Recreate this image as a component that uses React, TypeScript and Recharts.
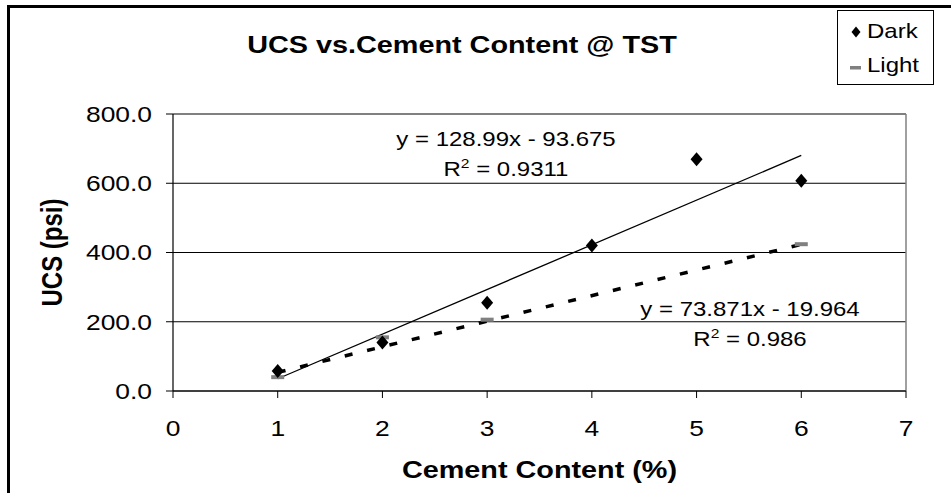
import React from 'react';
import {
  ScatterChart,
  Scatter,
  XAxis,
  YAxis,
  CartesianGrid,
  ReferenceLine,
  ReferenceDot,
  Legend,
  Label,
  Customized,
} from 'recharts';

const FONT = '"Liberation Sans", Arial, Helvetica, sans-serif';
const SX = 1.2; // horizontal stretch of the reference's text

// ---- data ----
const seriesNames = ['Dark', 'Light'];
const cementDark = [1, 2, 3, 4, 5, 6];
const ucsDark = [58, 140, 255, 420, 669, 607];
const cementLight = [1, 2, 3, 6];
const ucsLight = [40, 155, 206, 424];
const xTicks = [0, 1, 2, 3, 4, 5, 6, 7];
const yTicks = [0, 200, 400, 600, 800];
const darkFit = { slope: 128.99, intercept: -93.675, r2: '0.9311' };
const lightFit = { slope: 73.871, intercept: -19.964, r2: '0.986' };
const fitRange = [1, 6];
const darkEqAnchor = { x: 3.18, y: 664 };
const lightEqAnchor = { x: 5.51, y: 172 };
const chartTitle = 'UCS vs.Cement Content @ TST';
const xTitle = 'Cement Content (%)';
const yTitle = 'UCS (psi)';

const darkData = cementDark.map((x, i) => ({ x, y: ucsDark[i] }));
const lightData = cementLight.map((x, i) => ({ x, y: ucsLight[i] }));
const fitSegment = (fit: { slope: number; intercept: number }) =>
  fitRange.map((x) => ({ x, y: fit.slope * x + fit.intercept }));

// ---- shapes ----
const Diamond = (p: any) => {
  const { cx, cy, hw = 6, hh = 7 } = p;
  if (cx == null || cy == null) return null;
  return (
    <polygon
      points={`${cx},${cy - hh} ${cx + hw},${cy} ${cx},${cy + hh} ${cx - hw},${cy}`}
      fill="#000"
    />
  );
};
const GrayDash = (p: any) => {
  const { cx, cy } = p;
  if (cx == null || cy == null) return null;
  return <rect x={cx - 6.5} y={cy - 2} width={13} height={4} fill="#808080" />;
};

// ---- texts ----
const XTick = (p: any) => {
  const { x, y, payload } = p;
  return (
    <g transform={`translate(${x},${y})`}>
      <text
        transform={`scale(${SX},1)`}
        textAnchor="middle"
        y={38}
        fontFamily={FONT}
        fontSize={22}
        fill="#000"
      >
        {payload.value}
      </text>
    </g>
  );
};
const YTick = (p: any) => {
  const { x, y, payload } = p;
  return (
    <g transform={`translate(${x - 14},${y})`}>
      <text
        transform={`scale(${SX},1)`}
        textAnchor="end"
        dy="0.36em"
        fontFamily={FONT}
        fontSize={22}
        fill="#000"
      >
        {Number(payload.value).toFixed(1)}
      </text>
    </g>
  );
};
const XTitle = (p: any) => {
  const vb = p.viewBox || {};
  return (
    <g transform={`translate(${vb.x + vb.width / 2},${vb.y + 87})`}>
      <text
        transform={`scale(${SX},1)`}
        textAnchor="middle"
        fontFamily={FONT}
        fontWeight="bold"
        fontSize={24}
        fill="#000"
      >
        {xTitle}
      </text>
    </g>
  );
};
const YTitle = (p: any) => {
  const vb = p.viewBox || {};
  return (
    <g transform={`translate(62,${vb.y + vb.height / 2}) rotate(-90) scale(1,${SX})`}>
      <text textAnchor="middle" fontFamily={FONT} fontWeight="bold" fontSize={24} fill="#000">
        {yTitle}
      </text>
    </g>
  );
};
const ChartTitle = () => (
  <g transform="translate(462,53)">
    <text
      transform={`scale(${SX},1)`}
      textAnchor="middle"
      fontFamily={FONT}
      fontWeight="bold"
      fontSize={24}
      fill="#000"
    >
      {chartTitle}
    </text>
  </g>
);
const EqLabel = (p: any) => {
  const { viewBox, fit } = p;
  const cx = viewBox.x + (viewBox.width || 0) / 2;
  const cy = viewBox.y + (viewBox.height || 0) / 2;
  return (
    <g transform={`translate(${cx},${cy})`}>
      <text transform={`scale(${SX},1)`} textAnchor="middle" fontFamily={FONT} fontSize={20} fill="#000">
        <tspan x={0} y={-15}>{`y = ${fit.slope}x - ${Math.abs(fit.intercept)}`}</tspan>
      </text>
      <text transform={`scale(${SX},1)`} textAnchor="middle" fontFamily={FONT} fontSize={20} fill="#000">
        <tspan x={0} y={15}>R</tspan>
        <tspan dy={-8} fontSize={13}>2</tspan>
        <tspan dy={8}>{` = ${fit.r2}`}</tspan>
      </text>
    </g>
  );
};

const LegendBox = () => (
  <svg width={97} height={75} style={{ display: 'block' }}>
    <rect x={0.5} y={0.5} width={96} height={74} fill="#fff" stroke="#000" strokeWidth={1} />
    <Diamond cx={19} cy={22} hw={4.5} hh={5.5} />
    <g transform="translate(30,28)">
      <text transform={`scale(${SX},1)`} fontFamily={FONT} fontSize={20} fill="#000">
        {seriesNames[0]}
      </text>
    </g>
    <rect x={13} y={56} width={11} height={3.5} fill="#808080" />
    <g transform="translate(30,62)">
      <text transform={`scale(${SX},1)`} fontFamily={FONT} fontSize={20} fill="#000">
        {seriesNames[1]}
      </text>
    </g>
  </svg>
);

export default function App() {
  return (
    <div style={{ position: 'absolute', left: 0, top: 0, width: 951, height: 493, background: '#fff', overflow: 'hidden' }}>
      <div
        style={{
          position: 'absolute',
          left: 7,
          top: 5,
          width: 960,
          height: 500,
          borderLeft: '3px solid #000',
          borderTop: '3px solid #000',
          boxSizing: 'border-box',
          pointerEvents: 'none',
        }}
      />
      <ScatterChart width={951} height={493} margin={{ top: 114, right: 45, bottom: 42, left: 83 }}>
        <CartesianGrid vertical={false} stroke="#000" strokeWidth={1} />
        <ReferenceLine y={800} stroke="#808080" strokeWidth={1.5} />
        <ReferenceLine x={7} stroke="#808080" strokeWidth={1.5} />
        <XAxis
          type="number"
          dataKey="x"
          domain={[0, 7]}
          ticks={xTicks}
          tickSize={7}
          tickMargin={0}
          height={60}
          axisLine={{ stroke: '#000', strokeWidth: 1.2 }}
          tickLine={{ stroke: '#000' }}
          tick={<XTick />}
        >
          <Label content={<XTitle />} />
        </XAxis>
        <YAxis
          type="number"
          dataKey="y"
          domain={[0, 800]}
          ticks={yTicks}
          tickSize={7}
          tickMargin={0}
          width={90}
          axisLine={{ stroke: '#000', strokeWidth: 1.2 }}
          tickLine={{ stroke: '#000' }}
          tick={<YTick />}
        >
          <Label content={<YTitle />} />
        </YAxis>
        <ReferenceLine segment={fitSegment(darkFit)} stroke="#000" strokeWidth={1.3} />
        <ReferenceLine segment={fitSegment(lightFit)} stroke="#000" strokeWidth={3.5} strokeDasharray="8 15" />
        <Scatter name={seriesNames[1]} data={lightData} shape={GrayDash} isAnimationActive={false} />
        <Scatter name={seriesNames[0]} data={darkData} shape={Diamond} isAnimationActive={false} />
        <ReferenceDot
          x={darkEqAnchor.x}
          y={darkEqAnchor.y}
          r={0}
          fill="none"
          stroke="none"
          label={(p: any) => <EqLabel {...p} fit={darkFit} />}
        />
        <ReferenceDot
          x={lightEqAnchor.x}
          y={lightEqAnchor.y}
          r={0}
          fill="none"
          stroke="none"
          label={(p: any) => <EqLabel {...p} fit={lightFit} />}
        />
        <Customized component={ChartTitle} />
        <Legend
          layout="horizontal"
          verticalAlign="middle"
          align="center"
          content={() => <LegendBox />}
          wrapperStyle={{ position: 'absolute', left: 837, top: 10, width: 97, height: 75, margin: 0, padding: 0 }}
        />
      </ScatterChart>
    </div>
  );
}
